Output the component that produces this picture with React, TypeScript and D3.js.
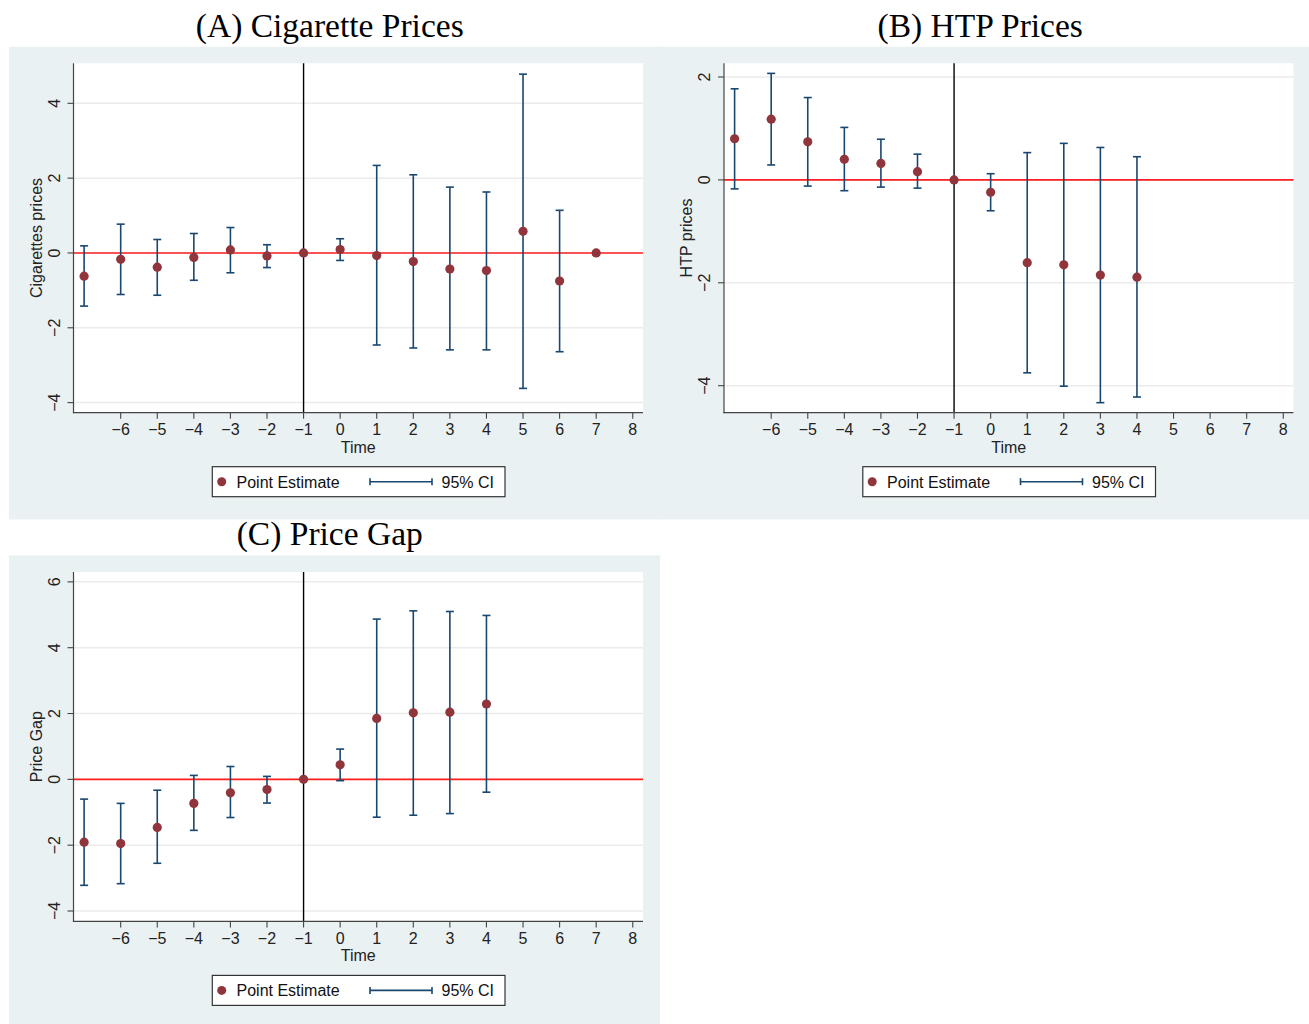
import React from "react";
import * as d3 from "d3";

// Event-study estimates by period relative to treatment
const periodsA = [-7, -6, -5, -4, -3, -2, -1, 0, 1, 2, 3, 4, 5, 6, 7];
const cigEst = [-0.62, -0.17, -0.38, -0.12, 0.08, -0.08, 0, 0.09, -0.07, -0.23, -0.43, -0.47, 0.58, -0.75, 0];
const cigLo = [-1.42, -1.11, -1.13, -0.73, -0.53, -0.39, null, -0.2, -2.46, -2.54, -2.59, -2.59, -3.62, -2.64, null];
const cigHi = [0.19, 0.77, 0.36, 0.52, 0.68, 0.22, null, 0.38, 2.34, 2.09, 1.76, 1.63, 4.78, 1.14, null];

const periodsB = [-7, -6, -5, -4, -3, -2, -1, 0, 1, 2, 3, 4];
const htpEst = [0.8, 1.18, 0.74, 0.4, 0.32, 0.16, 0, -0.24, -1.61, -1.65, -1.85, -1.89];
const htpLo = [-0.175, 0.29, -0.12, -0.21, -0.14, -0.16, null, -0.6, -3.75, -4.01, -4.33, -4.22];
const htpHi = [1.77, 2.07, 1.6, 1.02, 0.79, 0.5, null, 0.12, 0.53, 0.71, 0.63, 0.45];

const periodsC = [-7, -6, -5, -4, -3, -2, -1, 0, 1, 2, 3, 4];
const gapEst = [-1.91, -1.95, -1.46, -0.73, -0.41, -0.31, 0, 0.44, 1.85, 2.02, 2.04, 2.29];
const gapLo = [-3.22, -3.17, -2.55, -1.55, -1.16, -0.72, null, -0.04, -1.15, -1.09, -1.04, -0.39];
const gapHi = [-0.6, -0.73, -0.33, 0.12, 0.39, 0.09, null, 0.92, 4.87, 5.12, 5.1, 4.98];

const xTicks = [-6, -5, -4, -3, -2, -1, 0, 1, 2, 3, 4, 5, 6, 7, 8];
const yTicksA = [-4, -2, 0, 2, 4];
const yTicksB = [-4, -2, 0, 2];
const yTicksC = [-4, -2, 0, 2, 4, 6];

const COLORS = {
  bg: "#eaf1f3",
  point: "#90353b",
  ci: "#1a476f",
  zero: "#ff1f1f",
  grid: "#ebebeb",
  axis: "#444",
};

const SANS = "'Liberation Sans', Arial, Helvetica, sans-serif";
const SERIF = "'Liberation Serif', 'Times New Roman', serif";

const fmt = (v: number) => (v < 0 ? "\u2212" + Math.abs(v) : String(v));

type PanelProps = {
  ox: number;
  oy: number;
  bgW: number;
  bgH: number;
  title: string;
  yLabel: string;
  yDomain: [number, number];
  yTicks: number[];
  periods: number[];
  est: number[];
  lo: (number | null)[];
  hi: (number | null)[];
};

function Panel(p: PanelProps) {
  // plot region, relative to the panel origin
  const left = 73.5;
  const right = 643;
  const top = 63.3;
  const bottom = 412.7;
  const x = d3.scaleLinear().domain([-7.29, 8.28]).range([left, right]);
  const y = d3.scaleLinear().domain(p.yDomain).range([bottom, top]);
  const cap = 4;

  return (
    <g transform={`translate(${p.ox},${p.oy})`}>
      <rect x={9} y={46.7} width={p.bgW} height={p.bgH} fill={COLORS.bg} />
      <text
        x={(left + right) / 2 - 28.5}
        y={36.8}
        textAnchor="middle"
        fontFamily={SERIF}
        fontSize={33.5}
        fill="#000"
      >
        {p.title}
      </text>
      <rect x={left} y={top} width={right - left} height={bottom - top} fill="#fff" />
      {p.yTicks.map((t) => (
        <line key={"g" + t} x1={left} x2={right} y1={y(t)} y2={y(t)} stroke={COLORS.grid} strokeWidth={1.5} />
      ))}
      <line x1={left} x2={right} y1={y(0)} y2={y(0)} stroke={COLORS.zero} strokeWidth={1.6} />
      <line x1={x(-1)} x2={x(-1)} y1={top} y2={bottom} stroke="#000" strokeWidth={1.4} />
      {/* axes */}
      <line x1={left} x2={left} y1={top} y2={bottom + 0.6} stroke={COLORS.axis} strokeWidth={1.2} />
      <line x1={left - 0.6} x2={right} y1={bottom} y2={bottom} stroke={COLORS.axis} strokeWidth={1.2} />
      {p.yTicks.map((t) => (
        <g key={"yt" + t}>
          <line x1={left - 6} x2={left} y1={y(t)} y2={y(t)} stroke={COLORS.axis} strokeWidth={1.1} />
          <text
            transform={`translate(${59.5},${y(t)}) rotate(-90)`}
            textAnchor="middle"
            fontFamily={SANS}
            fontSize={16}
            fill="#222"
          >
            {fmt(t)}
          </text>
        </g>
      ))}
      {xTicks.map((t) => (
        <g key={"xt" + t}>
          <line x1={x(t)} x2={x(t)} y1={bottom} y2={bottom + 6} stroke={COLORS.axis} strokeWidth={1.1} />
          <text x={x(t)} y={435} textAnchor="middle" fontFamily={SANS} fontSize={16} fill="#222">
            {fmt(t)}
          </text>
        </g>
      ))}
      <text x={(left + right) / 2} y={452.7} textAnchor="middle" fontFamily={SANS} fontSize={16} fill="#222">
        Time
      </text>
      <text
        transform={`translate(${41.5},${(top + bottom) / 2}) rotate(-90)`}
        textAnchor="middle"
        fontFamily={SANS}
        fontSize={16}
        fill="#222"
      >
        {p.yLabel}
      </text>
      {/* confidence intervals */}
      {p.periods.map((t, i) => {
        const l = p.lo[i];
        const h = p.hi[i];
        if (l == null || h == null) return null;
        const cx = x(t);
        return (
          <g key={"ci" + t} stroke={COLORS.ci} strokeWidth={1.6}>
            <line x1={cx} x2={cx} y1={y(h)} y2={y(l)} />
            <line x1={cx - cap} x2={cx + cap} y1={y(h)} y2={y(h)} />
            <line x1={cx - cap} x2={cx + cap} y1={y(l)} y2={y(l)} />
          </g>
        );
      })}
      {p.periods.map((t, i) => (
        <circle key={"pt" + t} cx={x(t)} cy={y(p.est[i])} r={4.6} fill={COLORS.point} />
      ))}
      {/* legend */}
      <rect x={212.3} y={466.7} width={292.7} height={30} fill="#fff" stroke="#333" strokeWidth={1.2} />
      <circle cx={221.7} cy={481.7} r={4.5} fill={COLORS.point} />
      <text x={236.5} y={487.5} fontFamily={SANS} fontSize={16} fill="#111">
        Point Estimate
      </text>
      <g stroke={COLORS.ci} strokeWidth={1.6}>
        <line x1={370} x2={432} y1={481.7} y2={481.7} />
        <line x1={370} x2={370} y1={478.2} y2={485.2} />
        <line x1={432} x2={432} y1={478.2} y2={485.2} />
      </g>
      <text x={441.5} y={487.5} fontFamily={SANS} fontSize={16} fill="#111">
        95% CI
      </text>
    </g>
  );
}

export default function App() {
  return (
    <div style={{ position: "absolute", left: 0, top: 0 }}>
      <svg width={1309} height={1024} style={{ display: "block", background: "#fff" }}>
        <Panel
          ox={0}
          oy={0}
          bgW={651}
          bgH={472.8}
          title="(A) Cigarette Prices"
          yLabel="Cigarettes prices"
          yDomain={[-4.27, 5.07]}
          yTicks={yTicksA}
          periods={periodsA}
          est={cigEst}
          lo={cigLo}
          hi={cigHi}
        />
        <Panel
          ox={650.5}
          oy={0}
          bgW={650}
          bgH={472.8}
          title="(B) HTP Prices"
          yLabel="HTP prices"
          yDomain={[-4.525, 2.266]}
          yTicks={yTicksB}
          periods={periodsB}
          est={htpEst}
          lo={htpLo}
          hi={htpHi}
        />
        <Panel
          ox={0}
          oy={508.7}
          bgW={651}
          bgH={472.8}
          title="(C) Price Gap"
          yLabel="Price Gap"
          yDomain={[-4.316, 6.3]}
          yTicks={yTicksC}
          periods={periodsC}
          est={gapEst}
          lo={gapLo}
          hi={gapHi}
        />
      </svg>
    </div>
  );
}
